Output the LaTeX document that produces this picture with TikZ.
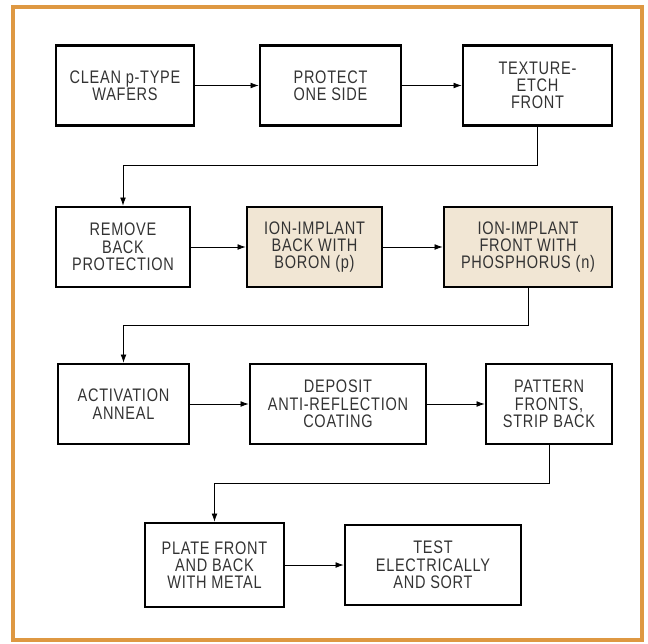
\documentclass[tikz,border=0pt]{standalone}
\usepackage{fontspec}
\setmainfont[FakeStretch=0.8,LetterSpace=4]{Liberation Sans}
\usetikzlibrary{arrows.meta}
\definecolor{frameorange}{RGB}{222,152,66}
\definecolor{implantfill}{RGB}{241,230,212}

\begin{document}
\begin{tikzpicture}[x=0.03cm,y=-0.03cm,
  stepbox/.style={draw,line width=2.2pt,align=center,inner sep=0pt,minimum height=2.4cm,
    font=\fontsize{15.5}{14.8}\selectfont,text=black!80},
  implant/.style={stepbox,fill=implantfill},
  flow/.style={-{Latex[length=7pt,width=5pt]},line width=0.7pt}]
\useasboundingbox (0,0) rectangle (648,643);
\draw[frameorange,line width=3.4pt] (13,7) rectangle (642,640);
% row 1
\node[stepbox,minimum width=4.14cm] (clean) at (125,85.5) {CLEAN p-TYPE\\WAFERS};
\node[stepbox,minimum width=4.23cm] (protect) at (330.5,85.5) {PROTECT\\ONE SIDE};
\node[stepbox,minimum width=4.47cm] (texture) at (537.5,85.5) {TEXTURE-\\ETCH\\FRONT};
% row 2
\node[stepbox,minimum width=4.02cm] (remove) at (123,247) {REMOVE\\BACK\\PROTECTION};
\node[implant,minimum width=4.05cm] (boron) at (314.5,247) {ION-IMPLANT\\BACK WITH\\BORON (p)};
\node[implant,minimum width=5.04cm] (phos) at (528,247) {ION-IMPLANT\\FRONT WITH\\PHOSPHORUS (n)};
% row 3
\node[stepbox,minimum width=3.93cm] (anneal) at (123.5,404) {ACTIVATION\\ANNEAL};
\node[stepbox,minimum width=5.28cm] (coat) at (338,404) {DEPOSIT\\ANTI-REFLECTION\\COATING};
\node[stepbox,minimum width=3.78cm] (pattern) at (549,404) {PATTERN\\FRONTS,\\STRIP BACK};
% row 4
\node[stepbox,minimum width=4.17cm,minimum height=2.52cm] (plate) at (214.5,565) {PLATE FRONT\\AND BACK\\WITH METAL};
\node[stepbox,minimum width=5.28cm] (test) at (433,565) {TEST\\ELECTRICALLY\\AND SORT};
% turns between rows
\coordinate (turn1) at (0,165);
\coordinate (turn2) at (0,325);
\coordinate (turn3) at (0,483);
\foreach \a/\b in {clean/protect,protect/texture,remove/boron,boron/phos,anneal/coat,coat/pattern,plate/test}
  \draw[flow] (\a) -- (\b);
\draw[flow] (texture.south) -- (texture.south |- turn1) -| (remove.north);
\draw[flow] (phos.south) -- (phos.south |- turn2) -| (anneal.north);
\draw[flow] (pattern.south) -- (pattern.south |- turn3) -| (plate.north);
\end{tikzpicture}
\end{document}
